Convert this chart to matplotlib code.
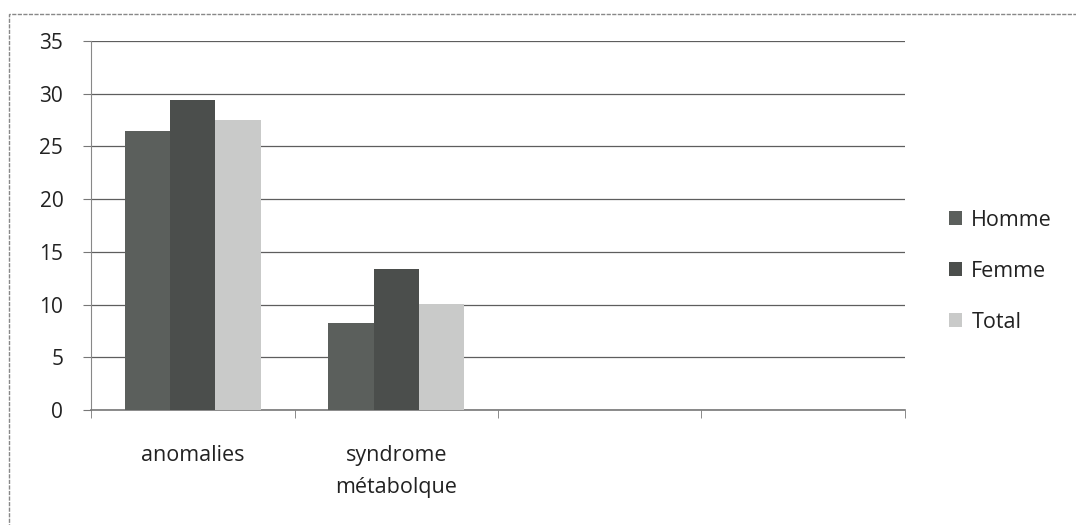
import matplotlib.pyplot as plt
import numpy as np
from matplotlib.patches import Rectangle

plt.rcParams['font.family'] = ['Open Sans', 'DejaVu Sans']

categories = ['anomalies', 'syndrome\nmétabolque', '', '']
series = ['Homme', 'Femme', 'Total']
homme = [26.5, 8.3, np.nan, np.nan]
femme = [29.4, 13.4, np.nan, np.nan]
total = [27.5, 10.1, np.nan, np.nan]
colors = ['#5b5f5c', '#4b4e4c', '#c9cac9']
yticks = [0, 5, 10, 15, 20, 25, 30, 35]

fig = plt.figure(figsize=(10.76, 5.25), dpi=100)
ax = fig.add_axes([0.0846, 0.219, 0.7564, 0.703])

# outer chart frame
fig.patches.append(Rectangle((0.008, -0.01), 1.0, 0.983, transform=fig.transFigure,
                             fill=False, edgecolor='#888888', linewidth=1.0,
                             linestyle=(0, (3, 1))))

x = np.arange(len(categories))
w = 0.223
for i, (name, vals) in enumerate(zip(series, [homme, femme, total])):
    ax.bar(x + (i - 1) * w, vals, w, color=colors[i], label=name, zorder=3)

ax.set_xlim(-0.5, len(categories) - 0.5)
ax.set_ylim(0, 35)
ax.set_yticks(yticks)
ax.yaxis.grid(True, color='#5e5e5e', linewidth=0.9, zorder=0)
ax.set_axisbelow(True)

ax.set_xticks(x)
ax.set_xticklabels(categories, fontsize=15.5, color='#222222', linespacing=1.7)
ax.set_xticks(np.arange(len(categories) + 1) - 0.5, minor=True)
ax.tick_params(axis='x', which='major', length=0, pad=25)
ax.tick_params(axis='x', which='minor', length=6, color='#777777')
ax.tick_params(axis='y', length=6, color='#777777', labelsize=15,
               labelcolor='#222222', pad=14)

for side in ['top', 'right']:
    ax.spines[side].set_visible(False)
ax.spines['left'].set_color('#888888')
ax.spines['bottom'].set_color('#777777')
ax.spines['bottom'].set_linewidth(1.2)

ax.legend(loc='center left', bbox_to_anchor=(1.03, 0.376), frameon=False,
          fontsize=15.5, handlelength=0.6, handleheight=0.6, handletextpad=0.45,
          labelspacing=1.4, labelcolor='#222222')

fig.savefig('out.png', dpi=100)
